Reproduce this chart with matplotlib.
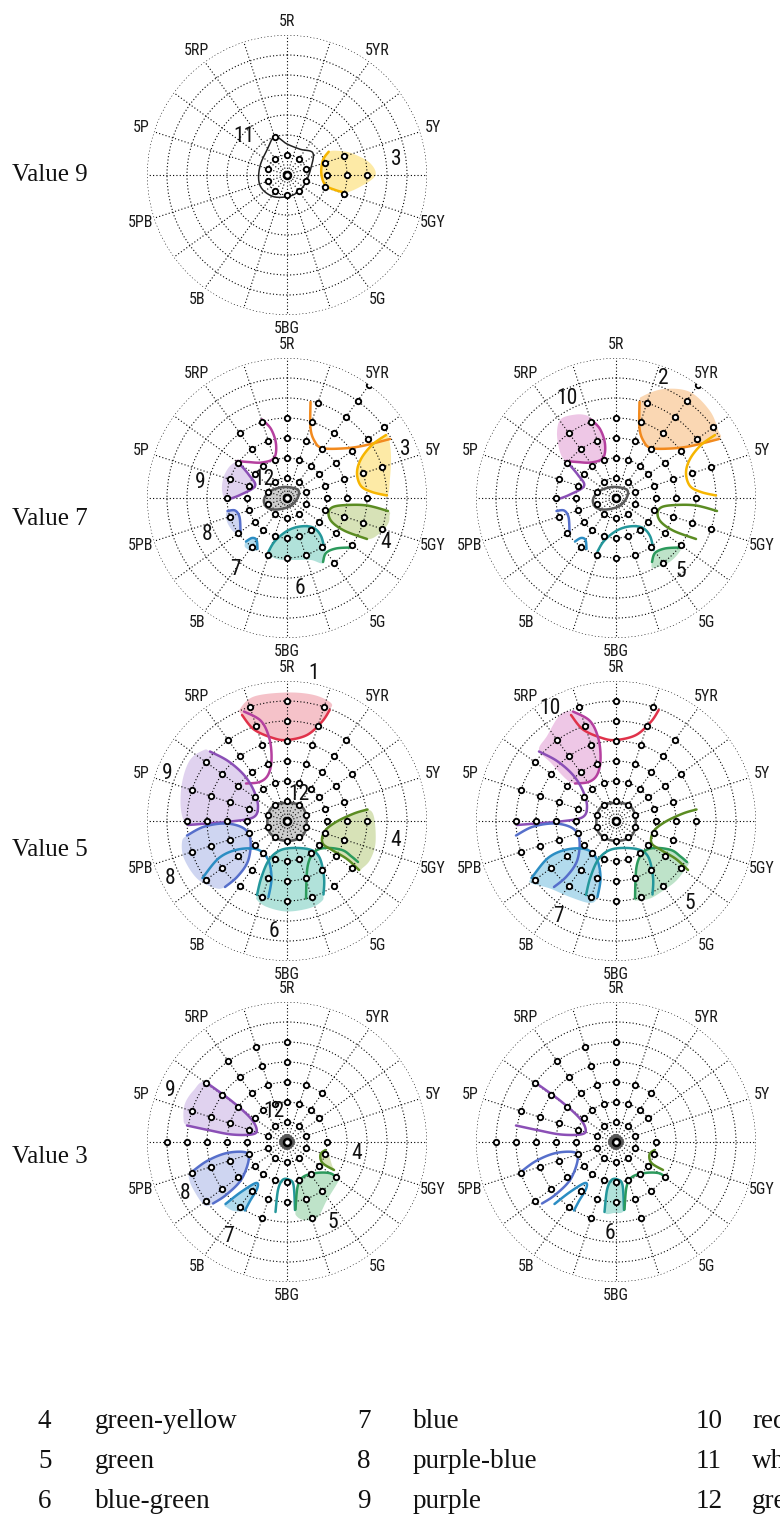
import numpy as np
import matplotlib
matplotlib.use("Agg")
import matplotlib.pyplot as plt
from matplotlib import font_manager


def pick_font(*names):
    have = {f.name for f in font_manager.fontManager.ttflist}
    for n in names:
        if n in have:
            return n
    return None


NARROW = pick_font("Liberation Sans Narrow", "Roboto Condensed", "Open Sans Condensed")
NARROW_KW = {"family": NARROW} if NARROW else {"family": "DejaVu Sans", "fontstretch": "condensed"}
SERIF = pick_font("Liberation Serif", "DejaVu Serif") or "serif"
HUE_SIZE = 11.5 if NARROW else 10.5
NUM_SIZE = 15.5 if NARROW else 14

# 20 hue spokes, clockwise from the top
HUES = ["5R", "10R", "5YR", "10YR", "5Y", "10Y", "5GY", "10GY", "5G", "10G",
        "5BG", "10BG", "5B", "10B", "5PB", "10PB", "5P", "10P", "5RP", "10RP"]

# highest sampled chroma on each hue spoke, per Munsell value
MAX_CHROMA = {
    9: [2, 0, 2, 0, 6, 8, 6, 0, 2, 0, 2, 0, 2, 0, 2, 0, 2, 0, 2, 4],
    7: [8, 10, 14, 12, 10, 8, 10, 8, 8, 6, 6, 6, 6, 6, 6, 6, 6, 6, 8, 8],
    5: [12, 12, 10, 8, 6, 8, 6, 8, 8, 8, 8, 8, 8, 10, 10, 10, 10, 10, 10, 12],
    3: [10, 6, 6, 4, 2, 4, 4, 6, 6, 8, 6, 8, 8, 10, 10, 12, 10, 10, 10, 10],
}

# colour-name categories: (line colour, fill colour)
CATEGORY_COLORS = {
    1: ("#e0324a", "#f4bcc4"),
    2: ("#f28a1e", "#fad3ab"),
    3: ("#f6b500", "#fde89c"),
    4: ("#5b8c22", "#d3dfb0"),
    5: ("#2c9a5c", "#b7e0c3"),
    6: ("#24979b", "#a9dfd6"),
    7: ("#2b8dc3", "#aad8ec"),
    8: ("#566fcb", "#c9d1f0"),
    9: ("#8b4fb6", "#ddcdee"),
    10: ("#b5409f", "#edc1e4"),
    11: ("#222222", "#ffffff"),
    12: ("#5a5a5a", "#c8c8c8"),
}
CLOSED = {11, 12}

# category boundaries in the chroma plane (x east, y north, chroma units)
BOUNDARIES = {
    9: {
        11: [(-1.23, 3.83), (0, 3.1), (1.33, 2.57), (2.57, 2.23), (2.43, 0.83),
             (1.83, -0.83), (1.0, -1.77), (0, -2.17), (-1.33, -2.17), (-2.4, -1.5),
             (-2.83, -0.5), (-2.67, 1.0), (-2.0, 2.5)],
        3: [(4.17, 2.33), (3.6, 1.5), (3.43, 0.17), (3.83, -1.0), (4.83, -1.5), (5.83, -1.77)],
    },
    7: {
        2: [(2.35, 9.6), (2.35, 7.0), (2.75, 5.7), (3.5, 5.0), (5.5, 4.95), (7.5, 5.2), (10.3, 5.9)],
        3: [(9.9, 6.3), (8.5, 5.3), (7.4, 3.9), (7.0, 2.5), (7.4, 1.2), (8.5, 0.6), (10.0, 0.25)],
        4: [(10.1, -1.3), (8.0, -0.75), (6.0, -0.7), (4.6, -0.9), (4.15, -1.5), (4.5, -2.4),
            (5.8, -3.3), (8.0, -4.1)],
        5: [(3.6, -6.4), (3.9, -5.5), (4.9, -5.05), (6.4, -4.95)],
        6: [(-1.85, -5.35), (-1.2, -4.3), (0.0, -3.3), (1.3, -2.85), (2.6, -2.95), (3.4, -3.8),
            (3.75, -5.2)],
        7: [(-4.1, -4.35), (-3.5, -4.0), (-3.05, -4.2), (-2.95, -5.1)],
        8: [(-5.95, -1.3), (-5.2, -1.25), (-4.75, -1.9), (-4.65, -3.3)],
        9: [(-6.05, -0.2), (-4.7, 0.3), (-3.2, 1.2), (-3.8, 2.3), (-4.8, 3.5)],
        10: [(-2.5, 7.85), (-1.6, 6.9), (-1.1, 5.4), (-1.3, 4.0), (-2.5, 3.55), (-3.9, 3.6),
             (-5.0, 3.7)],
        12: [(1.05, 0.85), (-0.3, 1.1), (-1.65, 0.7), (-2.3, -0.15), (-2.0, -0.95), (-1.0, -1.15),
             (0.35, -0.8), (1.1, 0.1)],
    },
    5: {
        1: [(-4.5, 10.6), (-3.3, 9.15), (-1.4, 8.3), (0.0, 8.1), (2.0, 8.6), (3.5, 9.93), (4.27, 11.1)],
        10: [(-4.3, 10.95), (-2.6, 10.0), (-1.75, 8.2), (-1.55, 6.1), (-1.9, 4.6), (-2.75, 3.9),
             (-4.1, 3.75)],
        9: [(-7.7, 6.95), (-5.9, 6.0), (-4.3, 4.6), (-3.3, 3.0), (-2.9, 1.4), (-3.4, 0.35),
            (-5.6, -0.05), (-8.0, -0.25), (-9.9, -0.4)],
        8: [(-10.0, -1.45), (-8.3, -0.57), (-6.1, -0.25), (-4.3, -0.75), (-3.65, -1.95),
            (-3.9, -4.0), (-4.95, -5.55), (-6.2, -6.6)],
        7: [(-8.45, -5.7), (-6.8, -3.7), (-4.9, -2.85), (-2.95, -2.85), (-1.9, -3.85),
            (-1.55, -5.7), (-1.85, -7.6)],
        6: [(-3.0, -7.4), (-2.55, -5.6), (-1.7, -3.75), (-0.3, -2.8), (2.05, -2.8), (3.2, -3.55),
            (3.7, -5.6), (3.65, -7.35)],
        5: [(1.9, -7.75), (2.05, -4.6), (2.7, -3.15), (3.8, -2.7), (5.5, -2.9), (6.45, -3.55),
            (7.1, -4.1)],
        4: [(8.05, 1.15), (6.7, 0.75), (4.9, -0.1), (3.75, -1.05), (3.55, -2.2), (4.5, -2.9),
            (6.0, -3.8), (7.2, -4.9)],
        12: [(0, 1.8), (1.27, 1.6), (1.88, 0.7), (1.9, -0.8), (1.27, -1.7), (0, -2.0),
             (-1.2, -1.65), (-1.9, -0.8), (-1.86, 0.77), (-1.2, 1.6)],
    },
    3: {
        9: [(-8.15, 6.0), (-5.6, 4.15), (-3.75, 2.5), (-3.05, 1.35), (-3.4, 0.78), (-5.5, 0.75),
            (-7.9, 1.2), (-10.0, 1.65)],
        8: [(-9.65, -3.1), (-8.0, -1.9), (-6.0, -1.1), (-4.1, -1.05), (-3.85, -1.9), (-4.6, -3.8),
            (-6.1, -5.3), (-7.4, -6.15)],
        7: [(-6.15, -6.2), (-4.6, -5.0), (-3.1, -4.1), (-2.98, -4.65), (-3.7, -5.9), (-4.2, -6.85)],
        6: [(-1.15, -7.0), (-0.9, -4.8), (-0.45, -3.8), (0.15, -3.75), (0.65, -4.3), (0.8, -6.8)],
        5: [(0.85, -6.75), (1.05, -4.5), (1.6, -3.5), (2.9, -3.1), (4.3, -3.12), (5.0, -3.6)],
        4: [(3.85, -0.8), (3.35, -1.25), (3.55, -2.1), (4.7, -2.8)],
        12: [(0, 0.6), (0.6, 0), (0, -0.6), (-0.6, 0)],
    },
}

# shaded regions per panel: category -> outer edge that closes the boundary
FILLS = {
    (9, "L"): {3: [(7.33, -1.17), (8.83, -0.07), (8.33, 1.17), (6.67, 2.1), (5.33, 2.4)]},
    (7, "L"): {
        3: [(10.3, 2.0), (10.4, 4.2), (10.2, 5.9)],
        4: [(9.2, -3.6), (10.1, -2.6), (10.25, -1.8)],
        6: [(3.6, -6.5), (2.4, -6.2), (0.8, -6.2), (-0.8, -6.15), (-1.8, -5.7)],
        7: [(-3.5, -5.3), (-4.2, -4.9)],
        8: [(-5.3, -3.4), (-5.9, -2.6), (-6.1, -1.8)],
        9: [(-5.6, 3.3), (-6.3, 2.2), (-6.5, 0.8)],
        12: [],
    },
    (7, "R"): {
        2: [(10.2, 6.8), (9.4, 8.7), (7.4, 10.6), (4.8, 10.9), (2.7, 10.2)],
        5: [(6.2, -5.6), (5.2, -6.5), (3.7, -7.0)],
        10: [(-5.6, 4.6), (-5.9, 6.5), (-5.5, 7.9), (-4.0, 8.35), (-2.9, 8.25)],
    },
    (5, "L"): {
        1: [(4.4, 11.8), (2.7, 12.6), (0.0, 12.85), (-3.3, 12.45), (-4.7, 11.2)],
        9: [(-10.6, 1.1), (-10.5, 3.8), (-9.7, 6.1), (-8.3, 7.1)],
        8: [(-7.2, -6.7), (-9.0, -5.75), (-10.3, -3.75), (-10.5, -2.1)],
        6: [(3.5, -8.0), (2.3, -8.7), (0.0, -9.05), (-2.0, -8.6), (-3.0, -7.9)],
        4: [(7.5, -4.75), (8.3, -3.9), (8.85, -2.2), (8.7, 0.4)],
        12: [],
    },
    (5, "R"): {
        10: [(-5.0, 4.2), (-6.5, 5.8), (-7.7, 7.1), (-6.9, 8.5), (-5.6, 10.6)],
        7: [(-2.6, -8.2), (-4.6, -7.6), (-6.6, -6.75), (-8.5, -6.2)],
        5: [(7.3, -4.25), (6.1, -5.9), (4.8, -6.9), (3.4, -7.75), (2.0, -7.95)],
    },
    (3, "L"): {
        9: [(-10.35, 2.4), (-10.2, 3.85), (-9.35, 5.15)],
        8: [(-8.3, -6.3), (-9.5, -4.5), (-9.85, -3.35)],
        7: [(-5.3, -6.9), (-6.0, -6.55)],
        5: [(5.15, -3.9), (4.0, -5.8), (3.0, -7.6), (1.7, -7.8), (0.95, -7.4)],
        4: [(4.5, -2.3), (4.15, -1.2)],
        12: [],
    },
    (3, "R"): {6: [(-0.2, -7.1)]},
}

# category numbers written on each panel
LABELS = {
    (9, "L"): [("11", -4.33, 3.83), ("3", 10.93, 1.57)],
    (7, "L"): [("3", 11.83, 4.83), ("9", -8.73, 1.5), ("12", -2.27, 1.83), ("8", -8.0, -3.67),
               ("7", -5.17, -7.17), ("6", 1.27, -9.0), ("4", 9.9, -4.5)],
    (7, "R"): [("10", -4.9, 10.0), ("2", 4.77, 12.0), ("5", 6.43, -7.33)],
    (5, "L"): [("1", 2.67, 14.77), ("9", -12.0, 4.77), ("12", 1.17, 2.6), ("4", 10.83, -1.9),
               ("8", -11.67, -5.73), ("6", -1.33, -11.07)],
    (5, "R"): [("10", -6.57, 11.27), ("7", -5.73, -9.57), ("5", 7.37, -8.23)],
    (3, "L"): [("9", -11.67, 5.17), ("12", -1.33, 3.07), ("4", 7.0, -1.17), ("8", -10.17, -5.17),
               ("5", 4.6, -8.0), ("7", -5.83, -9.5)],
    (3, "R"): [("6", -0.63, -9.17)],
}

# panel centres in pixels from the top-left corner
PANELS = {
    (9, "L"): (287, 175),
    (7, "L"): (287, 498), (7, "R"): (616, 498),
    (5, "L"): (287, 821), (5, "R"): (616, 821),
    (3, "L"): (287, 1142), (3, "R"): (616, 1142),
}
ROW_TITLES = [("Value 9", 175), ("Value 7", 519), ("Value 5", 850), ("Value 3", 1157)]

LEGEND = [
    [("4", "green-yellow"), ("5", "green"), ("6", "blue-green")],
    [("7", "blue"), ("8", "purple-blue"), ("9", "purple")],
    [("10", "red-purple"), ("11", "white"), ("12", "grey")],
]

W, H = 780, 1515
R_PX = 140


def spline(pts, closed=False, n=14):
    p = np.asarray(pts, float)
    if closed:
        p = np.vstack([p[-1], p, p[0], p[1]])
    else:
        p = np.vstack([p[0], p, p[-1]])
    t = np.linspace(0, 1, n, endpoint=False)[:, None]
    out = []
    for k in range(1, len(p) - 2):
        p0, p1, p2, p3 = p[k - 1], p[k], p[k + 1], p[k + 2]
        out.append(0.5 * (2 * p1 + (-p0 + p2) * t + (2 * p0 - 5 * p1 + 4 * p2 - p3) * t ** 2
                          + (-p0 + 3 * p1 - 3 * p2 + p3) * t ** 3))
    out.append(p[1][None] if closed else p[-2][None])
    return np.vstack(out)


def to_polar(xy):
    xy = np.atleast_2d(xy)
    th = np.unwrap(np.arctan2(xy[:, 0], xy[:, 1]))
    return th, np.hypot(xy[:, 0], xy[:, 1])


def draw_panel(fig, value, side):
    cx, cy = PANELS[(value, side)]
    ax = fig.add_axes([(cx - R_PX) / W, (H - cy - R_PX) / H, 2 * R_PX / W, 2 * R_PX / H],
                      projection="polar")
    ax.set_theta_zero_location("N")
    ax.set_theta_direction(-1)
    ax.set_ylim(0, 14)
    ax.set_yticks(np.arange(2, 15, 2))
    ax.set_yticklabels([])
    ax.set_xticks(np.deg2rad(np.arange(0, 360, 18)))
    ax.set_xticklabels([])
    ax.tick_params(length=0)
    ax.grid(True, color="black", linestyle=(0, (1, 2.0)), linewidth=0.8)
    ax.spines["polar"].set_visible(False)

    # hue names on the 5-hues
    for i, name in enumerate(HUES):
        if i % 2 == 0:
            ax.text(np.deg2rad(18 * i), 15.35, name, ha="center", va="center",
                    fontsize=HUE_SIZE, color="#1a1a1a", **NARROW_KW)

    # shaded regions
    bounds = BOUNDARIES[value]
    for cat, edge in FILLS.get((value, side), {}).items():
        pts = list(bounds[cat]) + list(edge)
        th, r = to_polar(spline(pts, closed=True))
        ax.fill(th, r, color=CATEGORY_COLORS[cat][1], lw=0, zorder=1, alpha=0.9)

    # category boundaries
    for cat, pts in bounds.items():
        closed = cat in CLOSED
        th, r = to_polar(spline(pts, closed=closed))
        lw = 1.1 if cat == 11 else (3.0 if (cat == 12 and value == 3) else 1.8)
        ax.plot(th, r, color=CATEGORY_COLORS[cat][0], lw=lw, zorder=2,
                solid_capstyle="round")

    # sample chips
    th_s, r_s = [], []
    for i, cmax in enumerate(MAX_CHROMA[value]):
        start = 2 if i % 2 == 0 else 4
        for c in range(start, cmax + 1, 2):
            th_s.append(np.deg2rad(18 * i))
            r_s.append(c)
    ax.plot(th_s, r_s, "o", ms=3.9, mfc="white", mec="black", mew=1.35, ls="none", zorder=4)
    ax.plot([0], [0], "o", ms=5.0, mfc="white", mec="black", mew=1.8, ls="none", zorder=4)

    for s, x, y in LABELS.get((value, side), []):
        th, r = to_polar((x, y))
        ax.text(th[0], r[0], s, ha="center", va="center", fontsize=NUM_SIZE,
                color="#111111", zorder=5, **NARROW_KW)
    return ax


fig = plt.figure(figsize=(W / 100, H / 100), dpi=100)

for (value, side) in PANELS:
    draw_panel(fig, value, side)

for title, y in ROW_TITLES:
    fig.text(12 / W, 1 - y / H, title, ha="left", va="center", fontsize=18,
             family=SERIF, color="#111111")

col_num_x = [38, 357, 696]
col_txt_x = [95, 413, 752]
row_y = [1421, 1461, 1501]
for col, entries in enumerate(LEGEND):
    for row, (num, name) in enumerate(entries):
        fig.text(col_num_x[col] / W, 1 - row_y[row] / H, num, ha="left", va="center",
                 fontsize=19.5, family=SERIF, color="#111111")
        fig.text(col_txt_x[col] / W, 1 - row_y[row] / H, name, ha="left", va="center",
                 fontsize=19.5, family=SERIF, color="#111111")

fig.savefig("out.png", dpi=100)
